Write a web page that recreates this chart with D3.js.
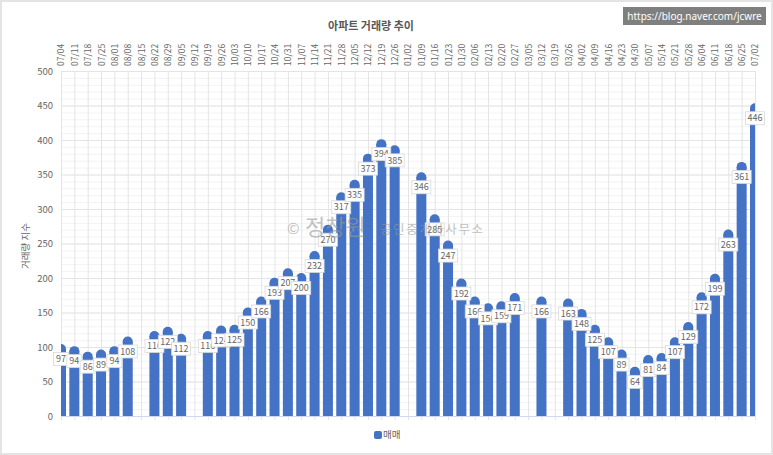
<!DOCTYPE html>
<html>
<head>
<meta charset="utf-8">
<script src="https://cdn.jsdelivr.net/npm/d3@7"></script>
<style>
html,body { margin:0; padding:0; background:#fff; }
svg { display:block; }
text { font-family:"Noto Sans CJK KR","Noto Sans",sans-serif; }
</style>
</head>
<body>
<div id="chart"></div>
<script>
var weeks = ["07/04","07/11","07/18","07/25","08/01","08/08","08/15","08/22","08/29","09/05","09/12","09/19","09/26","10/03","10/10","10/17","10/24","10/31","11/07","11/14","11/21","11/28","12/05","12/12","12/19","12/26","01/02","01/09","01/16","01/23","01/30","02/06","02/13","02/20","02/27","03/05","03/12","03/19","03/26","04/02","04/09","04/16","04/23","04/30","05/07","05/14","05/21","05/28","06/04","06/11","06/18","06/25","07/02"];
var sales = [97,94,86,89,94,108,null,116,122,112,null,116,124,125,150,166,193,207,200,232,270,317,335,373,394,385,null,346,285,247,192,166,156,159,171,null,166,null,163,148,125,107,89,64,81,84,107,129,172,199,263,361,446];
var majorTicks = [0,50,100,150,200,250,300,350,400,450,500];
var minorTicks = d3.range(0,500,10);

var width = 773, height = 455;
var left = 61, right = 755, top_ = 71, bottom = 416;
var blue = "#4472c4";
var grey = "#666666";

var x = d3.scalePoint().domain(weeks).range([left,right]);
var y = d3.scaleLinear().domain([0,500]).range([bottom,top_]);
var barW = 10;

var svg = d3.select("#chart").append("svg").attr("width",width).attr("height",height);

svg.append("rect").attr("x",1).attr("y",1).attr("width",width-2).attr("height",height-2)
	.attr("fill","#fff").attr("stroke","#e4e4e4").attr("stroke-width",2);

svg.append("defs").append("clipPath").attr("id","plot")
	.append("rect").attr("x",left).attr("y",top_-10).attr("width",right-left).attr("height",bottom-top_+10);

// grid
svg.append("g").selectAll("line").data(minorTicks).enter().append("line")
	.attr("x1",left).attr("x2",right).attr("y1",function(d){return y(d)+0.5;}).attr("y2",function(d){return y(d)+0.5;})
	.attr("stroke","#f3f3f3");
svg.append("g").selectAll("line").data(majorTicks).enter().append("line")
	.attr("x1",left).attr("x2",right).attr("y1",function(d){return y(d)+0.5;}).attr("y2",function(d){return y(d)+0.5;})
	.attr("stroke","#e4e4e4");
svg.append("g").selectAll("line").data(weeks).enter().append("line")
	.attr("x1",function(d){return x(d)+0.5;}).attr("x2",function(d){return x(d)+0.5;}).attr("y1",top_).attr("y2",bottom+4)
	.attr("stroke","#e4e4e4");

// axes
var yAxis = svg.append("g").attr("transform","translate("+left+",0)")
	.call(d3.axisLeft(y).tickValues(majorTicks).tickSize(0).tickPadding(8));
yAxis.select(".domain").remove();
yAxis.selectAll("text").attr("fill",grey).style("font-size","9.5px");

var xAxis = svg.append("g").attr("transform","translate(0,"+top_+")")
	.call(d3.axisTop(x).tickSize(0));
xAxis.select(".domain").remove();
xAxis.selectAll("text")
	.attr("fill",grey).style("font-size","8.5px")
	.attr("text-anchor","start").attr("transform","rotate(-90)")
	.attr("x",5).attr("y",0).attr("dy","0.35em");

// bars
var present = weeks.map(function(w,i){return {w:w,v:sales[i]};}).filter(function(d){return d.v!==null;});
var marks = svg.append("g").attr("clip-path","url(#plot)");
marks.selectAll("rect").data(present).enter().append("rect")
	.attr("x",function(d){return x(d.w)-barW/2;})
	.attr("y",function(d){return y(d.v);})
	.attr("width",barW)
	.attr("height",function(d){return bottom-y(d.v);})
	.attr("fill",blue);
marks.selectAll("circle").data(present).enter().append("circle")
	.attr("cx",function(d){return x(d.w);})
	.attr("cy",function(d){return y(d.v);})
	.attr("r",barW/2)
	.attr("fill",blue);

svg.append("line").attr("x1",left).attr("x2",right).attr("y1",bottom+0.5).attr("y2",bottom+0.5)
	.attr("stroke","#d0d8ec");

// value labels
var labels = svg.append("g").selectAll("g").data(present).enter().append("g")
	.attr("transform",function(d){return "translate("+x(d.w)+","+(y(d.v)+10)+")";});
labels.append("rect")
	.attr("x",function(d){return -(String(d.v).length>2?9.5:7.5);})
	.attr("width",function(d){return String(d.v).length>2?19:15;})
	.attr("y",-6.5).attr("height",13)
	.attr("fill","#fff").attr("stroke","#d9d9d9").attr("stroke-width",0.8);
labels.append("text")
	.attr("text-anchor","middle").attr("dy","0.35em")
	.attr("fill",grey).style("font-size","9px")
	.text(function(d){return d.v;});

// watermark goes over everything
var wm = svg.append("g").attr("fill","#9a9a9a").attr("opacity",0.6);
wm.append("text").attr("x",287).attr("y",234).style("font-size","15px").text("©");
wm.append("text").attr("x",305).attr("y",235).style("font-size","22px").text("정창원");
wm.append("text").attr("x",380).attr("y",234).style("font-size","12.5px").attr("textLength",103).text("공인중개사사무소");

// titles
svg.append("text").attr("x",371).attr("y",30).attr("text-anchor","middle")
	.attr("fill","#595959").style("font-size","11px").style("font-weight","700").text("아파트 거래량 추이");
svg.append("text").attr("transform","translate(29,246) rotate(-90)").attr("text-anchor","middle")
	.attr("fill",grey).style("font-size","9.5px").text("거래량 지수");

// legend
svg.append("rect").attr("x",374).attr("y",431).attr("width",8).attr("height",8).attr("rx",2).attr("fill",blue);
svg.append("text").attr("x",383).attr("y",438).attr("fill",grey).style("font-size","9.5px").text("매매");

// badge
svg.append("rect").attr("x",623).attr("y",7).attr("width",143).attr("height",18).attr("fill","#7f7f7f");
svg.append("text").attr("x",694.5).attr("y",20).attr("text-anchor","middle")
	.attr("fill","#fff").style("font-family","'Noto Sans',sans-serif").style("font-size","10px").text("https://blog.naver.com/jcwre");
</script>
</body>
</html>
